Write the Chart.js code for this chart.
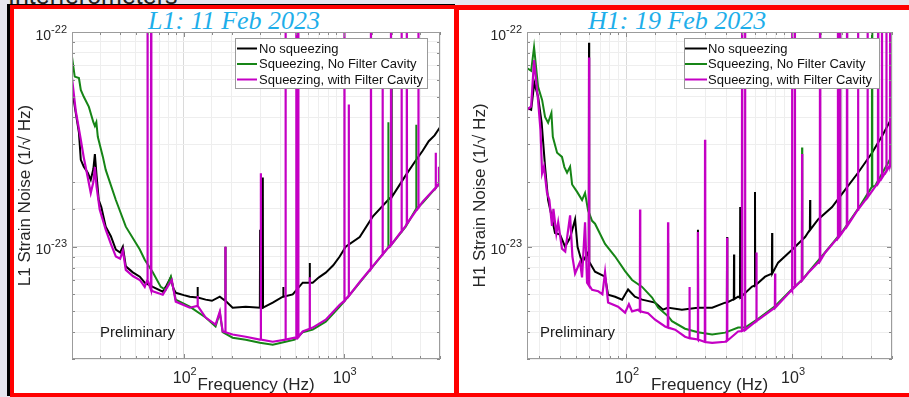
<!DOCTYPE html>
<html><head><meta charset="utf-8">
<script src="https://cdn.jsdelivr.net/npm/chart.js@4/dist/chart.umd.min.js"></script>
<style>
html,body{margin:0;padding:0;width:909px;height:397px;overflow:hidden;background:#e6e6ee;font-family:"Liberation Sans",Arial,sans-serif;}
#hdr{position:absolute;left:8px;top:-17px;font-size:25px;line-height:25px;color:#222;white-space:nowrap;}
.panel{position:absolute;background:#fff;border:4px solid #ff0000;box-sizing:border-box;}
#p1{left:10px;top:5px;width:448px;height:392px;box-shadow:-3px -1px 0 0 #000;}
#p2{left:455px;top:5px;width:462px;height:392px;border-top-width:5px;}
.ttl{position:absolute;font-family:"Liberation Serif","Times New Roman",serif;font-style:italic;font-size:26px;line-height:26px;color:#1eaeea;white-space:nowrap;}
canvas{position:absolute;}
</style>
</head><body>
<div id="hdr">Interferometers</div>
<div class="panel" id="p1"></div>
<div class="panel" id="p2"></div>
<div class="ttl" style="left:148px;top:8px;">L1: 11 Feb 2023</div>
<div class="ttl" style="left:588px;top:8px;">H1: 19 Feb 2023</div>
<canvas id="c1" width="444" height="387" style="left:10px;top:10px;"></canvas>
<canvas id="c2" width="445" height="387" style="left:460px;top:10px;"></canvas>
<script>
// ---------------- DATA (frequency in Hz, strain noise in units of 1e-24 /sqrt(Hz)) ----------------
const UNIT = 1e-24;
const SERIES_LABELS = ['No squeezing', 'Squeezing, No Filter Cavity', 'Squeezing, with Filter Cavity'];
const X_TICK_DECADES = [100, 1000];
const Y_TICK_DECADES = [1e-23, 1e-22];

// L1 (11 Feb 2023)
const L1_noSqz = [[20,55],[20.8,45],[22.1,34],[22.7,25.4],[23.7,23.6],[25.1,22.1],[26.2,20.5],[27.2,23],[27.8,27],[28.4,22],[29.4,16.5],[30.5,15.3],[32.5,12.4],[35,11.2],[37.6,9.7],[40,9.4],[41.6,10.0],[43.4,8.1],[48,7.6],[53.1,7.25],[57,6.8],[64,6.5],[73.9,6.18],[78,6.6],[82.9,7.2],[86,6.4],[89.1,6.1],[100,5.95],[109,5.85],[137,5.67],[150,5.6],[168,5.85],[202,5.2],[244,5.26],[299,5.2],[360,5.49],[416,5.85],[480,6.0],[554,6.8],[640,6.8],[700,7.2],[772,7.57],[860,8.2],[944,9.0],[1029,10.0],[1259,11.1],[1518,13.8],[1939,16.8],[2441,21.5],[2800,25],[3117,28],[3400,31],[3700,33],[4000,36]];
const L1_noSqz_lines = [[122,5.8,6.5],[182,5.6,10],[300,5.2,12],[312,5.2,21],[419,5.85,6.5],[613,6.8,8.4],[1990,17,55]];
const L1_sqzNoFC = [[20,76.5],[20.8,62],[22.1,61],[22.7,53.7],[23.7,49.9],[25.5,44.8],[27.2,38],[27.8,36.5],[28.4,38],[29,32.5],[31.2,26.2],[32.5,22.8],[37.6,16.5],[43.4,12.4],[53.1,9.7],[57,8.7],[64,7.6],[71.8,6.5],[77,6.3],[83,7.25],[89,5.67],[109,5.26],[137,4.68],[158,4.25],[168,4.93],[175,4.0],[202,3.77],[244,3.69],[299,3.57],[360,3.50],[433,3.61],[494,3.69],[554,4.0],[640,4.11],[772,4.48],[944,5.26],[1029,5.67],[1259,6.8],[1518,8.07],[1939,10.0],[2441,12.4],[3117,16.0],[4000,19.8]];
const L1_sqzNoFC_lines = [[1900,9.9,38],[2840,15,37]];
const L1_sqzFC = [[20,61],[21.1,43],[22.7,31.5],[23.7,26],[25.1,21],[26.2,17.8],[27.2,20],[27.8,23.5],[28.5,19],[29.8,14.9],[32.5,12.0],[35,10.3],[37.6,9.0],[40,8.8],[41.6,9.6],[43.4,7.8],[48,7.3],[53.1,7.0],[57,6.5],[64,6.2],[73.9,5.98],[78,6.4],[84.1,7.0],[89.1,5.55],[109,5.2],[137,4.68],[158,4.34],[168,4.99],[175,4.03],[202,3.90],[244,3.81],[299,3.69],[360,3.61],[433,3.69],[494,3.77],[554,4.03],[640,4.2],[772,4.57],[944,5.37],[1029,5.7],[1259,6.85],[1518,8.1],[1939,10.1],[2441,12.5],[3117,16.2],[4000,20]];
const L1_sqzFC_lines = [[59.3,7.0,200],[62.5,6.3,200],[122,5.3,5.9],[182,4.0,10],[303,3.69,22],[433,3.69,200],[505,3.75,200],[520,3.8,200],[613,4.15,7.2],[1010,5.6,200],[1075,5.9,46],[1480,7.9,200],[1750,9.2,60],[1975,10.2,200],[2300,11.8,200],[2480,12.8,200],[2930,15.2,200],[3760,18.8,27.4],[3940,19.7,23.6]];

// H1 (19 Feb 2023)
const H1_noSqz = [[25.3,44.3],[26.8,43.4],[28.0,58],[29.5,50],[31.0,37.8],[32.5,23.6],[33.9,16.5],[35.5,14],[37.3,11.6],[40,11.4],[42.9,10],[46,11],[49.3,13.4],[51,10],[54.3,8.43],[59,9.4],[62.4,8.07],[65,7.65],[74.7,7.25],[77.9,5.98],[85.9,5.85],[94.6,5.67],[102.8,6.32],[113,5.85],[125,5.67],[149.5,5.49],[167,5.09],[179,5.26],[217,5.09],[271,5.2],[330,5.2],[395,5.49],[473,5.85],[574,6.52],[688,7.25],[824,8.43],[1000,9.68],[1198,11.1],[1435,13.4],[1742,15.3],[2085,18.4],[2498,22.1],[3034,27.4],[3500,33],[4000,40]];
const H1_noSqz_lines = [[59.8,8.5,89],[179,5.2,10.4],[271,5.2,12],[406,5.5,11.1],[447,5.7,9.2],[487,5.8,15.3],[598,6.6,18],[758,7.5,11.6],[1284,12,16.5]];
const H1_sqzNoFC = [[25.3,68],[26.8,66],[27.9,85],[29.5,55.5],[31.2,48.3],[32.5,40.2],[33.9,37.8],[35.5,42],[36.2,32.5],[38.4,27.4],[41.1,26.2],[42.5,23.5],[44.1,22.1],[46,23.6],[47.3,19.5],[50.7,18.0],[54.3,16.5],[56.6,17.8],[59,14.8],[62.4,13.2],[65,12.8],[74.7,10.3],[85.9,9.0],[98.6,7.7],[108.7,7.0],[124.9,6.5],[143.5,5.8],[156,5.2],[179,4.75],[189,4.5],[226.6,4.15],[271,4.0],[330,3.9],[395,3.98],[473,4.2],[521,4.2],[625,4.62],[792,5.3],[1000,6.35],[1252,7.6],[1580,9.4],[2000,11.7],[2498,15.0],[3162,19.2],[4000,26.5]];
const H1_sqzNoFC_lines = [[1149,7.0,29],[1945,11.4,200],[3034,19,200]];
const H1_sqzFC = [[25.3,43.4],[26.8,45],[27.9,74],[29.5,48],[30.5,35],[31.2,22],[32.0,23.6],[33.4,17.8],[34.5,16.5],[35.8,12.5],[36.5,15],[38.0,11.5],[39,13],[41.1,9.8],[43,9.5],[46,14],[47.5,9.0],[49.3,7.5],[52.8,8.5],[54.3,7.2],[56.6,13],[58.2,6.8],[62.4,6.3],[68,6.2],[72,6.0],[74.7,7.6],[77.9,5.5],[89.5,5.26],[98.6,4.93],[104,5.4],[108.7,5.0],[118,5.09],[135.7,4.9],[149.5,4.57],[171.8,4.25],[197.5,4.11],[226.6,3.81],[271,3.69],[330,3.57],[395,3.61],[473,4.03],[521,4.1],[625,4.57],[792,5.26],[1000,6.32],[1252,7.57],[1580,9.38],[2000,11.6],[2498,14.9],[3162,19.0],[4000,25.4]];
const H1_sqzFC_lines = [[59.8,6.6,76],[121.4,5.0,14.9],[179,4.2,13],[241,3.75,6.5],[271,3.7,11.7],[299,3.6,31.5],[406,3.65,11],[500,4.05,200],[521,4.1,200],[610,4.5,9.4],[790,5.2,7.5],[1000,6.3,200],[1040,6.5,200],[1149,7.0,27],[1474,8.6,200],[1890,11,200],[1945,11.3,200],[2144,12.5,200],[2498,14.9,200],[2850,17,200],[3300,19.8,200],[3480,21,200],[3700,22.5,200],[3900,24,200]];

// ---------------- helpers ----------------
const FONT = '"Liberation Sans", Arial, Helvetica, sans-serif';
const COLORS = ['#000000', '#168516', '#c400c4'];
const WIDTHS = [2, 2, 2.2];

function series(base, lines) {
  const pts = base.map(([f, h]) => ({x: f, y: h * UNIT}));
  lines.forEach(([f, foot, peak]) => {
    pts.push({x: f * 0.997, y: foot * UNIT}, {x: f, y: peak * UNIT}, {x: f * 1.003, y: foot * UNIT});
  });
  pts.sort((a, b) => a.x - b.x);
  return pts;
}
function isDecade(v) { const l = Math.log10(v); return Math.abs(l - Math.round(l)) < 1e-6; }

const deco = {
  id: 'deco',
  afterDraw(chart, args, o) {
    const {ctx, chartArea: a, scales: {x, y}} = chart;
    ctx.save();
    ctx.strokeStyle = '#8a8a8a'; ctx.lineWidth = 1;
    ctx.beginPath();
    x.ticks.forEach(t => {
      const px = Math.round(x.getPixelForValue(t.value)) + 0.5;
      const L = isDecade(t.value) ? 5 : 3;
      ctx.moveTo(px, a.bottom); ctx.lineTo(px, a.bottom - L);
      ctx.moveTo(px, a.top); ctx.lineTo(px, a.top + L);
    });
    y.ticks.forEach(t => {
      const py = Math.round(y.getPixelForValue(t.value)) + 0.5;
      const L = isDecade(t.value) ? 5 : 3;
      ctx.moveTo(a.left, py); ctx.lineTo(a.left + L, py);
      ctx.moveTo(a.right, py); ctx.lineTo(a.right - L, py);
    });
    ctx.stroke();
    ctx.strokeStyle = '#9c9c9c';
    ctx.strokeRect(Math.round(a.left) + 0.5, Math.round(a.top) + 0.5, Math.round(a.right - a.left) - 1, Math.round(a.bottom - a.top) - 1);
    ctx.fillStyle = '#262626';
    const pow = (cx, yb, ye, exp, bs, es, align) => {
      ctx.font = bs + 'px ' + FONT; const wB = ctx.measureText('10').width;
      ctx.font = es + 'px ' + FONT; const wE = ctx.measureText(exp).width;
      const x0 = align === 'right' ? cx - wB - wE : cx - (wB + wE) / 2;
      ctx.textAlign = 'left'; ctx.textBaseline = 'alphabetic';
      ctx.font = bs + 'px ' + FONT; ctx.fillText('10', x0, yb);
      ctx.font = es + 'px ' + FONT; ctx.fillText(exp, x0 + wB, ye);
    };
    Y_TICK_DECADES.forEach(v => {
      const py = y.getPixelForValue(v);
      pow(a.left - 5, py + 7.5, py + 0.5, String(Math.round(Math.log10(v))), 14, 11, 'right');
    });
    X_TICK_DECADES.forEach(v => {
      const px = x.getPixelForValue(v);
      pow(px + 1, a.bottom + 24, a.bottom + 16, String(Math.round(Math.log10(v))), 16, 11, 'center');
    });
    ctx.font = '15px ' + FONT; ctx.fillStyle = '#1a1a1a';
    ctx.fillText('Preliminary', o.prelim[0], o.prelim[1]);
    const L = o.legend;
    ctx.fillStyle = '#ffffff'; ctx.fillRect(L.x, L.y, L.w, L.h);
    ctx.strokeStyle = '#9a9a9a'; ctx.lineWidth = 1;
    ctx.strokeRect(L.x + 0.5, L.y + 0.5, L.w, L.h);
    ctx.font = '13px ' + FONT; ctx.textBaseline = 'middle';
    SERIES_LABELS.forEach((lab, i) => {
      const yy = L.y + 10.5 + i * 15.5;
      ctx.strokeStyle = COLORS[i]; ctx.lineWidth = 2;
      ctx.beginPath(); ctx.moveTo(L.x + L.l0, yy); ctx.lineTo(L.x + L.l1, yy); ctx.stroke();
      ctx.fillStyle = '#111'; ctx.fillText(lab, L.x + L.tx, yy + 0.5);
    });
    ctx.restore();
  }
};

function makeChart(id, sets, xmin, xmax, yTitle, yW, yTitlePad, padR, legend, prelim) {
  const gridColor = c => (c.tick && isDecade(c.tick.value)) ? '#dadada' : '#eeeeee';
  return new Chart(document.getElementById(id), {
    type: 'line',
    data: {
      datasets: sets.map((d, i) => ({
        label: SERIES_LABELS[i], data: d, borderColor: COLORS[i], backgroundColor: COLORS[i],
        borderWidth: WIDTHS[i], pointRadius: 0, tension: 0, fill: false, clip: 0, order: 3 - i
      }))
    },
    options: {
      responsive: false, animation: false, events: [],
      layout: {padding: {left: 0, top: 22, right: padR, bottom: 0}},
      plugins: {legend: {display: false}, tooltip: {enabled: false}, deco: {legend, prelim}},
      scales: {
        x: {
          type: 'logarithmic', min: xmin, max: xmax,
          afterFit: s => { s.height = 38; },
          ticks: {display: false, autoSkip: false},
          grid: {color: gridColor, lineWidth: 1, drawTicks: false},
          border: {display: false},
          title: {display: true, text: 'Frequency (Hz)', color: '#262626', font: {family: FONT, size: 17}, padding: {top: 0, bottom: 1.5}}
        },
        y: {
          type: 'logarithmic', min: 3e-24, max: 1e-22,
          afterFit: s => { s.width = yW; },
          ticks: {display: false, autoSkip: false},
          grid: {color: gridColor, lineWidth: 1, drawTicks: false},
          border: {display: false},
          title: {display: true, text: yTitle, color: '#262626', font: {family: FONT, size: 17}, padding: {top: yTitlePad, bottom: 0}}
        }
      }
    },
    plugins: [deco]
  });
}

makeChart('c1',
  [series(L1_noSqz, L1_noSqz_lines), series(L1_sqzNoFC, L1_sqzNoFC_lines), series(L1_sqzFC, L1_sqzFC_lines)],
  20, 4000, 'L1 Strain Noise (1/\u221A Hz)', 62, 5.6, 14,
  {x: 225, y: 28, w: 192, h: 50, l0: 2, l1: 22, tx: 24}, [90, 327]);

makeChart('c2',
  [series(H1_noSqz, H1_noSqz_lines), series(H1_sqzNoFC, H1_sqzNoFC_lines), series(H1_sqzFC, H1_sqzFC_lines)],
  25.3, 4000, 'H1 Strain Noise (1/\u221A Hz)', 67, 10.6, 13,
  {x: 224, y: 28, w: 195, h: 50, l0: 1, l1: 23, tx: 24}, [80, 327]);
</script>
</body></html>
